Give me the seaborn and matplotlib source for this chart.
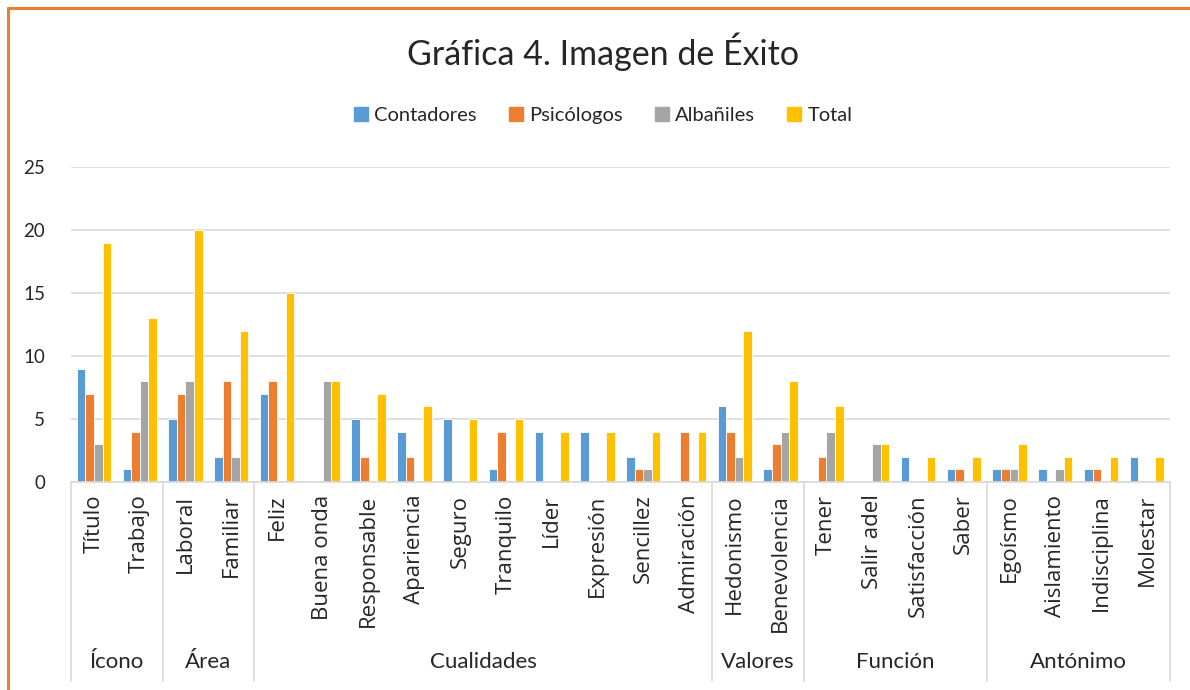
import matplotlib
matplotlib.use("Agg")
import matplotlib.pyplot as plt
import seaborn as sns
import pandas as pd
from matplotlib.lines import Line2D

# categorías (eje inferior) y grupos
categorias = ["Título", "Trabajo", "Laboral", "Familiar", "Feliz", "Buena onda",
              "Responsable", "Apariencia", "Seguro", "Tranquilo", "Líder", "Expresión",
              "Sencillez", "Admiración", "Hedonismo", "Benevolencia", "Tener",
              "Salir adel", "Satisfacción", "Saber", "Egoísmo", "Aislamiento",
              "Indisciplina", "Molestar"]
grupos = ["Ícono", "Área", "Cualidades", "Valores", "Función", "Antónimo"]
tamano_grupos = [2, 2, 10, 2, 4, 4]

contadores = [9, 1, 5, 2, 7, 0, 5, 4, 5, 1, 4, 4, 2, 0, 6, 1, 0, 0, 2, 1, 1, 1, 1, 2]
psicologos = [7, 4, 7, 8, 8, 0, 2, 2, 0, 4, 0, 0, 1, 4, 4, 3, 2, 0, 0, 1, 1, 0, 1, 0]
albaniles = [3, 8, 8, 2, 0, 8, 0, 0, 0, 0, 0, 0, 1, 0, 2, 4, 4, 3, 0, 0, 1, 1, 0, 0]
total = [19, 13, 20, 12, 15, 8, 7, 6, 5, 5, 4, 4, 4, 4, 12, 8, 6, 3, 2, 2, 3, 2, 2, 2]

series = {"Contadores": contadores, "Psicólogos": psicologos,
          "Albañiles": albaniles, "Total": total}
colores = ["#5B9BD5", "#ED7D31", "#A5A5A5", "#FFC000"]

df = pd.DataFrame([
    {"categoria": c, "serie": s, "valor": v}
    for s, vals in series.items() for c, v in zip(categorias, vals)
])

sns.set_style("white")
plt.rcParams["font.family"] = ["Lato", "DejaVu Sans"]

fig = plt.figure(figsize=(11.9, 6.9), dpi=100)
ax = fig.add_axes([0.0597, 0.3014, 0.9233, 0.4566])

sns.barplot(data=df, x="categoria", y="valor", hue="serie", palette=colores,
            order=categorias, width=0.75, edgecolor="white", linewidth=0.6,
            saturation=1, ax=ax, legend=False)

ax.set_ylim(0, 25)
ax.set_xlim(-0.5, len(categorias) - 0.5)
ax.set_yticks(range(0, 26, 5))
ax.yaxis.grid(True, color="#D9D9D9", linewidth=1.2)
ax.set_axisbelow(True)
for s in ["top", "right", "left"]:
    ax.spines[s].set_visible(False)
ax.spines["bottom"].set_color("#D9D9D9")
ax.spines["bottom"].set_linewidth(1.2)
ax.tick_params(axis="y", length=0, labelsize=13.5, pad=18.5)
ax.tick_params(axis="x", length=0, pad=9)
ax.set_xticks(range(len(categorias)))
ax.set_xticklabels(categorias, rotation=90, va="top")
for lbl in ax.get_xticklabels():
    lbl.set_fontfamily("Open Sans")
    lbl.set_fontsize(16)
ax.set_xlabel("")
ax.set_ylabel("")

# eje de grupos (multinivel)
trans = ax.get_xaxis_transform()
inicio = -0.5
bordes = [inicio]
for g, n in zip(grupos, tamano_grupos):
    fin = inicio + n
    ax.text((inicio + fin) / 2, -0.57, g, transform=trans, ha="center", va="center",
            fontsize=16)
    bordes.append(fin)
    inicio = fin
for b in bordes:
    ax.plot([b, b], [0, -0.63], transform=trans, color="#D9D9D9", linewidth=1.2,
            clip_on=False)

# título y leyenda
fig.text(0.507, 0.925, "Gráfica 4. Imagen de Éxito", ha="center", va="center",
         fontsize=24.5)
handles = [plt.Rectangle((0, 0), 1, 1, color=c) for c in colores]
fig.legend(handles, list(series.keys()), loc="center", bbox_to_anchor=(0.507, 0.833),
           ncol=4, frameon=False, fontsize=14.5, handlelength=0.7, handleheight=0.7,
           handletextpad=0.3, columnspacing=1.6)

# borde naranja
fig.add_artist(Line2D([0.0067, 0.0067], [0, 0.9885], transform=fig.transFigure,
                      color="#ED7D31", linewidth=2.2))
fig.add_artist(Line2D([0.0067, 1], [0.9885, 0.9885], transform=fig.transFigure,
                      color="#ED7D31", linewidth=2.2))

fig.savefig("out.png", dpi=100, facecolor="white")
